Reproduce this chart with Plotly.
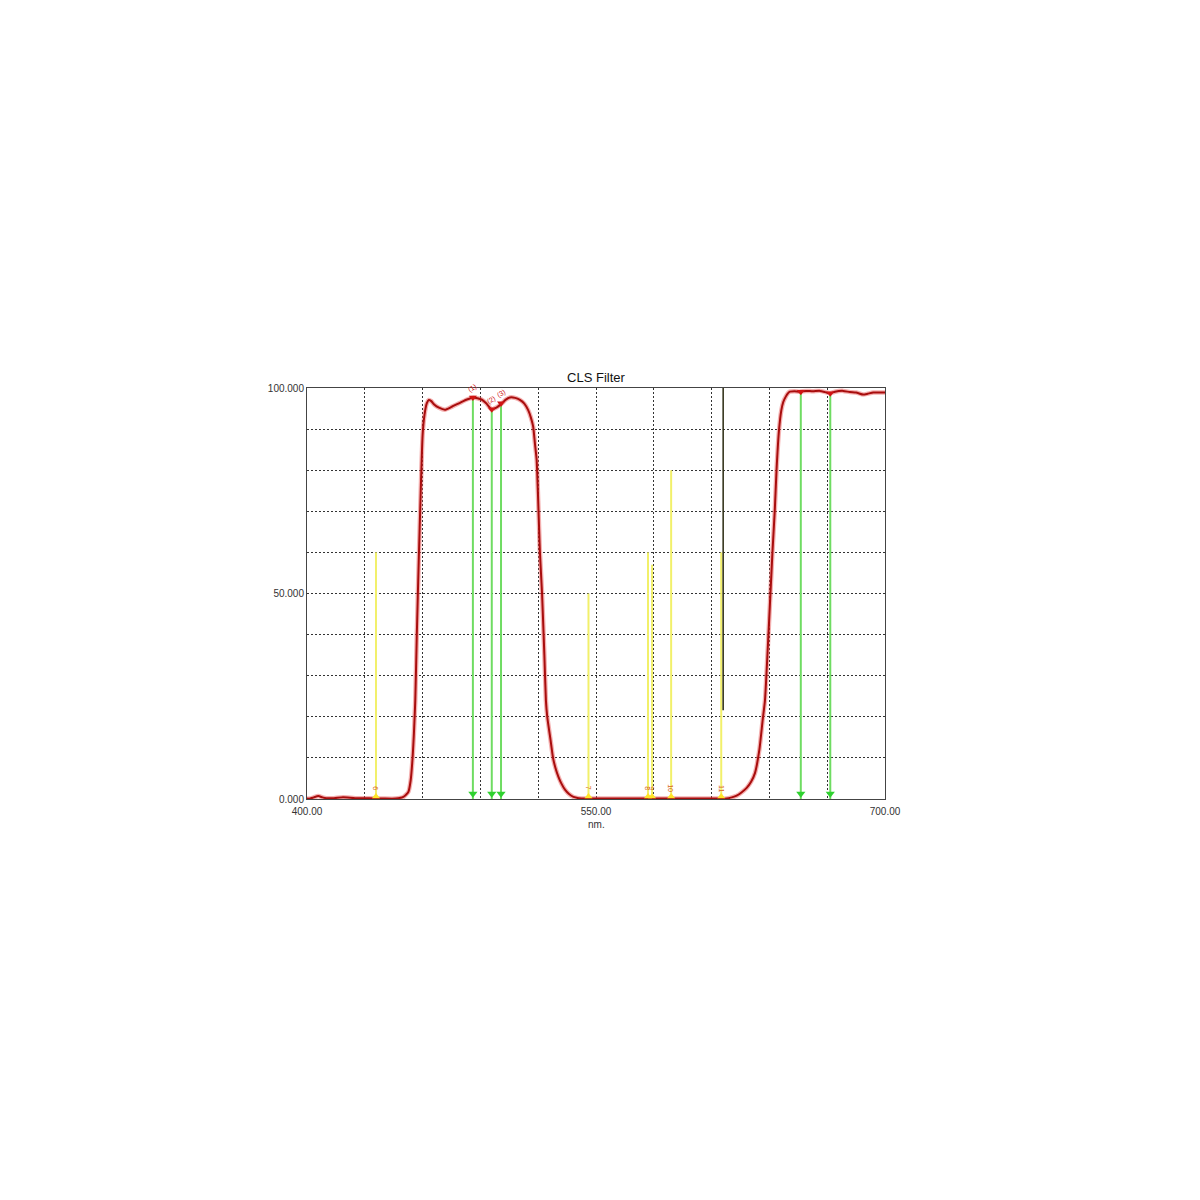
import plotly.graph_objects as go

# Measured transmission curve (wavelength in nm, transmission in %)
wavelength = [400, 401.6, 403.5, 405.9, 408, 410, 414, 418.7, 425, 432, 440, 446,
              450, 452.6, 453.8, 454.8, 455.5, 456.2, 457, 458, 459, 460, 461,
              462.2, 463.2, 464.5, 466, 468.5, 471.6, 475, 479.4, 483, 486.3, 490.6, 493, 495.8,
              498.5, 501, 503, 505.3, 508, 510.5, 512.8, 514.8, 516.2, 517.4, 518.3,
              519.2, 520.9, 522, 523.2, 524, 524.7, 526.4, 527.7, 529, 530.5, 532,
              534, 536, 538.3, 541, 545, 555, 570, 590, 605, 614, 617.8, 620.5, 623,
              625.5, 628.2, 630.5, 632.5, 634.8, 636.5, 637.7, 639.5, 641.6, 642.8,
              643.7, 645, 646.2, 647.2, 648.5, 649.6, 650.6, 653, 655.8, 659, 662.5,
              666.2, 669, 671.4, 674, 678.3, 681.8, 685, 688.7, 691, 693.9, 697, 700]
transmission = [0.1, 0.1, 0.4, 0.7, 0.4, 0.2, 0.2, 0.4, 0.2, 0.2, 0.1, 0.1,
                0.5, 1.7, 4.5, 10.0, 16.0, 24.0, 40.0, 58.0, 74.4, 88.5, 93.5,
                96.3, 97.1, 96.8, 96.0, 95.2, 94.7, 95.4, 96.4, 97.2, 97.7, 97.2, 96.3, 94.8,
                95.3, 96.2, 97.1, 97.7, 97.6, 97.1, 96.2, 94.6, 92.8, 90.6, 86.5,
                82.5, 60.0, 50.0, 35.0, 24.0, 20.0, 14.4, 10.0, 7.5, 5.4, 3.8,
                2.2, 1.2, 0.5, 0.2, 0.1, 0.1, 0.1, 0.1, 0.1, 0.1, 0.1, 0.4, 0.8,
                1.6, 2.7, 4.2, 6.3, 12.0, 19.2, 24.0, 40.0, 60.2, 70.3,
                80.0, 89.8, 94.6, 96.6, 97.9, 98.7, 99.1, 99.2, 99.1, 99.3, 99.2,
                99.3, 99.0, 98.7, 99.1, 99.3, 99.0, 98.9, 98.4, 98.6, 98.9, 98.9, 98.9]

# Emission lines (green markers)
emission_nm = [486.1, 495.9, 500.7, 656.3, 671.6]
emission_top = [97.7, 94.8, 96.3, 99.1, 98.7]
emission_labels = ["(1)", "(2)", "(3)", "(4)", "(5)"]

# Light-pollution lines (yellow markers)
pollution_nm = [435.8, 546.1, 577.0, 579.1, 589.0, 615.0]
pollution_top = [60, 50, 60, 57, 80, 60]
pollution_labels = ["6", "7", "8", "9", "10", "11"]

# Cursor line (black)
cursor_nm = 616.0
cursor_range = [21.6, 100]

# Axis ticks
x_tickvals = [400, 430, 460, 490, 520, 550, 580, 610, 640, 670, 700]
x_ticktext = ["400.00", "", "", "", "", "550.00", "", "", "", "", "700.00"]
y_tickvals = [0, 10, 20, 30, 40, 50, 60, 70, 80, 90, 100]
y_ticktext = ["0.000", "", "", "", "", "50.000", "", "", "", "", "100.000"]


def vlines(xs, tops, bottom=0):
    vx, vy = [], []
    for x, t in zip(xs, tops):
        vx += [x, x, None]
        vy += [bottom, t, None]
    return vx, vy


fig = go.Figure()

yx, yy = vlines(pollution_nm, pollution_top)
fig.add_trace(go.Scatter(x=yx, y=yy, mode="lines", line=dict(color="#f2f06a", width=2),
                         hoverinfo="skip", showlegend=False))

gx, gy = vlines(emission_nm, emission_top)
fig.add_trace(go.Scatter(x=gx, y=gy, mode="lines", line=dict(color="#6fdc62", width=2),
                         hoverinfo="skip", showlegend=False))

fig.add_trace(go.Scatter(x=[cursor_nm, cursor_nm], y=cursor_range, mode="lines",
                         line=dict(color="#2a2a10", width=1.5),
                         hoverinfo="skip", showlegend=False))

# Transmission curve with light halo
fig.add_trace(go.Scatter(x=wavelength, y=transmission, mode="lines",
                         line=dict(color="rgba(230,80,80,0.45)", width=4.5, shape="spline", smoothing=0.5),
                         hoverinfo="skip", showlegend=False))
fig.add_trace(go.Scatter(x=wavelength, y=transmission, mode="lines",
                         line=dict(color="#a80d0d", width=2, shape="spline", smoothing=0.5),
                         name="CLS Filter", showlegend=False))

# Markers on the curve at the emission lines
fig.add_trace(go.Scatter(x=emission_nm, y=emission_top, mode="markers",
                         marker=dict(symbol="triangle-down", size=7, color="#d01515"),
                         hoverinfo="skip", showlegend=False))
# Green arrowheads at the bottom
fig.add_trace(go.Scatter(x=emission_nm, y=[1.3] * len(emission_nm), mode="markers",
                         marker=dict(symbol="triangle-down", size=8, color="#2fd12f"),
                         hoverinfo="skip", showlegend=False))
# Yellow markers at the bottom
fig.add_trace(go.Scatter(x=pollution_nm, y=[0.6] * len(pollution_nm), mode="markers",
                         marker=dict(symbol="triangle-up", size=7, color="#ffe52a"),
                         hoverinfo="skip", showlegend=False))

annotations = []
for x, lab in zip(pollution_nm, pollution_labels):
    annotations.append(dict(x=x, y=2.6, xref="x", yref="y", text=lab, showarrow=False,
                            textangle=90, font=dict(size=7, color="#d8641c",
                                                    family="Liberation Sans")))
for x, t, lab in list(zip(emission_nm, emission_top, emission_labels))[:3]:
    annotations.append(dict(x=x, y=t + 2.3, xref="x", yref="y", text=lab, showarrow=False,
                            textangle=-30, font=dict(size=7, color="#d02020",
                                                     family="Liberation Sans")))
annotations.append(dict(x=550, y=-0.061, xref="x", yref="paper", text="nm.",
                        showarrow=False, yanchor="middle",
                        font=dict(size=10, color="#333333", family="Liberation Sans")))

fig.update_layout(
    width=1200, height=1200,
    margin=dict(l=299, r=323, t=380, b=409),
    paper_bgcolor="white", plot_bgcolor="white",
    title=dict(text="CLS Filter", x=588 / 1200, xanchor="center",
               y=1 - 369 / 1200, yanchor="middle", yref="container",
               font=dict(size=13, color="#111111", family="Liberation Sans")),
    annotations=annotations,
    showlegend=False,
)
fig.update_xaxes(range=[400, 700], tickvals=x_tickvals, ticktext=x_ticktext,
                 showgrid=True, gridcolor="#333333", gridwidth=1, griddash="2px,2px",
                 showline=True, linecolor="#444444", linewidth=1, mirror=True,
                 zeroline=False, ticks="", tickangle=0, ticklabelstandoff=3,
                 tickfont=dict(size=10, color="#333333", family="Liberation Sans"))
fig.update_yaxes(range=[0, 100], tickvals=y_tickvals, ticktext=y_ticktext,
                 showgrid=True, gridcolor="#333333", gridwidth=1, griddash="2px,2px",
                 showline=True, linecolor="#444444", linewidth=1, mirror=True,
                 zeroline=False, ticks="",
                 tickfont=dict(size=10, color="#333333", family="Liberation Sans"))

fig.write_html("out.html")
